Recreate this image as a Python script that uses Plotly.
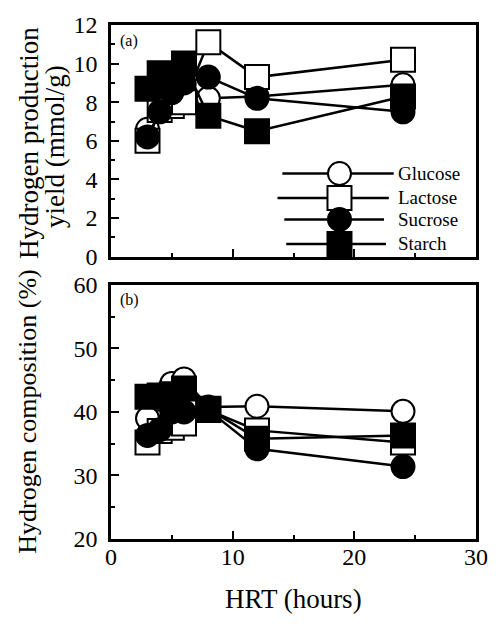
import plotly.graph_objects as go

# ---- data ----
hrt = [3, 4, 5, 6, 8, 12, 24]
substrates = ["Glucose", "Lactose", "Sucrose", "Starch"]

yield_glucose = [6.6, 7.9, 8.8, 8.9, 8.2, 8.3, 8.9]
yield_lactose = [6.0, 7.6, 7.8, 8.0, 11.1, 9.3, 10.2]
yield_sucrose = [6.2, 7.5, 8.5, 9.0, 9.3, 8.2, 7.5]
yield_starch = [8.7, 9.5, 9.4, 10.0, 7.3, 6.5, 8.3]

comp_glucose = [39.0, 42.0, 44.5, 45.2, 40.8, 40.9, 40.1]
comp_lactose = [35.2, 37.0, 37.5, 38.2, 40.3, 37.1, 35.2]
comp_sucrose = [36.3, 37.2, 40.0, 40.0, 40.3, 34.2, 31.4]
comp_starch = [42.4, 42.6, 42.8, 43.7, 40.5, 35.8, 36.3]

x_ticks = [0, 10, 20, 30]
y1_ticks = [0, 2, 4, 6, 8, 10, 12]
y2_ticks = [20, 30, 40, 50, 60]

# ---- styling ----
W, H = 500, 624
ML, MR, MT, MB = 111, 12, 13, 85
PW, PH = W - ML - MR, H - MT - MB
FONT = "Liberation Serif, Times New Roman, serif"


def px_x(p):
    return (p - ML) / PW


def px_y(p):
    return (H - MB - p) / PH


styles = {
    "Glucose": dict(symbol="circle", size=23, color="white"),
    "Lactose": dict(symbol="square", size=24, color="white"),
    "Sucrose": dict(symbol="circle", size=23, color="black"),
    "Starch": dict(symbol="square", size=24, color="black"),
}

top = dict(zip(substrates, [yield_glucose, yield_lactose, yield_sucrose, yield_starch]))
bot = dict(zip(substrates, [comp_glucose, comp_lactose, comp_sucrose, comp_starch]))

fig = go.Figure()
for name in substrates:
    st = styles[name]
    for data, xa, ya in ((top, "x", "y"), (bot, "x2", "y2")):
        fig.add_trace(go.Scatter(
            x=hrt, y=data[name], xaxis=xa, yaxis=ya, mode="lines+markers",
            name=name, showlegend=False,
            line=dict(color="black", width=2.5),
            marker=dict(symbol=st["symbol"], size=st["size"], color=st["color"],
                        line=dict(color="black", width=2)),
        ))

axis_common = dict(
    showgrid=False, zeroline=False, showline=True, linecolor="black", linewidth=2.5,
    mirror=True, ticks="inside", ticklen=8, tickwidth=2, tickcolor="black",
    tickfont=dict(family=FONT, size=24, color="black"),
)

y1_dom = [px_y(250), 1.0]
y2_dom = [0.0, px_y(279)]

fig.update_layout(
    width=W, height=H, margin=dict(l=ML, r=MR, t=MT, b=MB),
    paper_bgcolor="white", plot_bgcolor="white", showlegend=False,
    xaxis=dict(axis_common, domain=[0, 1], anchor="y", range=[0, 30],
               tickvals=x_ticks, showticklabels=False,
               minor=dict(ticks="inside", ticklen=4, dtick=5, tickcolor="black", tickwidth=2)),
    yaxis=dict(axis_common, domain=y1_dom, anchor="x", range=[0, 12],
               tickvals=y1_ticks, ticklabelstandoff=6,
               minor=dict(ticks="inside", ticklen=4, dtick=1, tickcolor="black", tickwidth=2)),
    xaxis2=dict(axis_common, domain=[0, 1], anchor="y2", range=[0, 30],
                tickvals=x_ticks, ticklabelstandoff=-6,
                minor=dict(ticks="inside", ticklen=4, dtick=5, tickcolor="black", tickwidth=2)),
    yaxis2=dict(axis_common, domain=y2_dom, anchor="x2", range=[20, 60],
                tickvals=y2_ticks, ticklabelstandoff=6,
                minor=dict(ticks="inside", ticklen=4, dtick=5, tickcolor="black", tickwidth=2)),
)

ann = []
tf = dict(family=FONT, size=27, color="black")
ann.append(dict(text="Hydrogen production", x=px_x(27), y=px_y(134), xref="paper", yref="paper",
                textangle=-90, showarrow=False, font=tf, xanchor="center", yanchor="middle"))
ann.append(dict(text="yield (mmol/g)", x=px_x(53), y=px_y(137), xref="paper", yref="paper",
                textangle=-90, showarrow=False, font=tf, xanchor="center", yanchor="middle"))
ann.append(dict(text="Hydrogen composition (%)", x=px_x(25), y=px_y(408), xref="paper", yref="paper",
                textangle=-90, showarrow=False, font=dict(family=FONT, size=26, color="black"),
                xanchor="center", yanchor="middle"))
ann.append(dict(text="HRT (hours)", x=px_x(300), y=px_y(600), xref="paper", yref="paper",
                showarrow=False, font=tf, xanchor="center", yanchor="middle"))
ann.append(dict(text="(a)", x=px_x(118), y=px_y(29), xref="paper", yref="paper",
                showarrow=False, font=dict(family=FONT, size=16, color="black"),
                xanchor="left", yanchor="middle"))
ann.append(dict(text="(b)", x=px_x(118), y=px_y(294), xref="paper", yref="paper",
                showarrow=False, font=dict(family=FONT, size=16, color="black"),
                xanchor="left", yanchor="middle"))

# ---- hand-drawn legend (as in the original) ----
shapes = []
leg_rows = [("Glucose", 165, 288, 403), ("Lactose", 190, 283, 398),
            ("Sucrose", 212, 290, 393), ("Starch", 237, 292, 395)]
for name, yy, xa, xb in leg_rows:
    st = styles[name]
    shapes.append(dict(type="line", xref="paper", yref="paper",
                       x0=px_x(xa), x1=px_x(xb), y0=px_y(yy), y1=px_y(yy),
                       line=dict(color="black", width=2.5)))
    half = st["size"] / 2
    shapes.append(dict(type="circle" if st["symbol"] == "circle" else "rect",
                       xref="paper", yref="paper", xsizemode="pixel", ysizemode="pixel",
                       xanchor=px_x(347), yanchor=px_y(yy),
                       x0=-half, x1=half, y0=-half, y1=half,
                       fillcolor=st["color"], line=dict(color="black", width=2)))
    ann.append(dict(text=name, x=px_x(405), y=px_y(yy), xref="paper", yref="paper",
                    showarrow=False, font=dict(family=FONT, size=19, color="black"),
                    xanchor="left", yanchor="middle"))

fig.update_layout(annotations=ann, shapes=shapes)
fig.write_html("out.html")
